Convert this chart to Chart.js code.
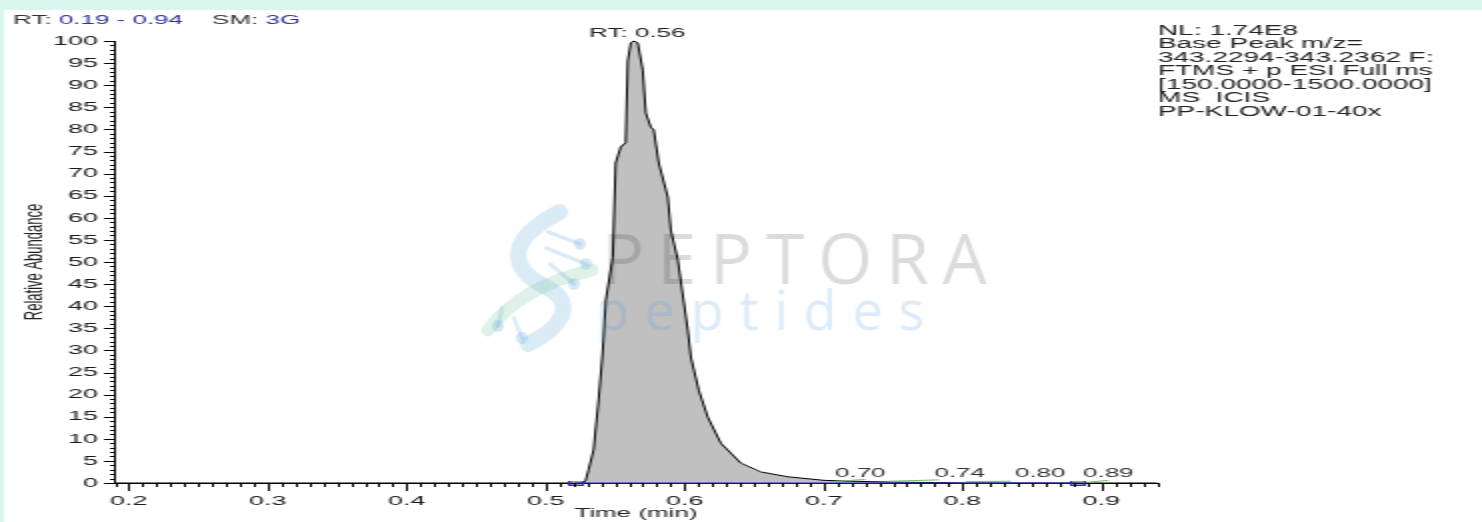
<!DOCTYPE html>
<html>
<head>
<meta charset="utf-8">
<script src="https://cdn.jsdelivr.net/npm/chart.js@4.4.1/dist/chart.umd.min.js"></script>
<style>
  html, body { margin: 0; padding: 0; background: #fff; overflow: hidden; }
  /* the instrument export is stretched 2x horizontally, so draw at half width and stretch */
  #wrap { width: 741px; height: 522px; transform: scaleX(2); transform-origin: 0 0; }
</style>
</head>
<body>
<div id="wrap"><canvas id="chromatogram" width="741" height="522"></canvas></div>
<script>
// chromatogram trace (time in min, relative abundance in %)
const retentionTime = [0.19, 0.52, 0.527, 0.5288, 0.5309, 0.5345, 0.5381, 0.5410, 0.5433, 0.5483,
    0.5504, 0.5540, 0.5576, 0.5591, 0.5613, 0.5634, 0.5663, 0.5699, 0.5721, 0.5757,
    0.5778, 0.5814, 0.5879, 0.5901, 0.5951, 0.6023, 0.6045, 0.6102, 0.6167, 0.6261,
    0.6405, 0.6550, 0.6744, 0.7004, 0.7200, 0.7500, 0.7800, 0.8000, 0.9400];
const relativeAbundance = [0, 0, 0, 0.6, 3, 7.5, 18.8, 29.4, 41.4, 51,
    72.4, 76, 77, 95.5, 99.6, 100, 99.6, 93.4, 83.7, 80.5,
    79.9, 72.4, 64.7, 57.2, 50.5, 34.6, 28.5, 21, 14.9, 9,
    4.5, 2.5, 1.4, 0.6, 0.4, 0.2, 0.1, 0, 0];

// integration baseline (blue) and small detected peaks (green)
const baselineTime = [0.522, 0.883];
const baselineLevel = [0, 0];
const minorPeakTime = [0.705, 0.730, 0.731, 0.747, 0.783, 0.784, 0.802, 0.835, 0.836, 0.891, 0.905];
const minorPeakLevel = [0.3, 0.8, null, 0.4, 0.7, null, 0.3, 0.4, null, 0.2, 0.6];

// peak labels
const apexLabel = 'RT: 0.56';
const apexTime = 0.566;
const minorPeakLabels = ['0.70', '0.74', '0.80', '0.89'];
const minorPeakLabelTime = [0.7265, 0.798, 0.856, 0.905];

// axis ticks
const xTickValues = [0.2, 0.3, 0.4, 0.5, 0.6, 0.7, 0.8, 0.9];
const yTickValues = [0, 5, 10, 15, 20, 25, 30, 35, 40, 45, 50, 55, 60, 65, 70, 75, 80, 85, 90, 95, 100];

// header / info text
const rangeText = '0.19 - 0.94';
const smoothText = '3G';
const infoLines = ['NL: 1.74E8', 'Base Peak m/z=', '343.2294-343.2362 F:', 'FTMS + p ESI Full ms',
    '[150.0000-1500.0000]', 'MS  ICIS', 'PP-KLOW-01-40x'];

const STRETCH = 2;
const FONT = '"Liberation Sans", Arial, sans-serif';

function toPoints(xs, ys) {
    return xs.map(function(x, i) { return {x: x, y: ys[i]}; });
}

function markerCanvas() {
    var c = document.createElement('canvas');
    c.width = 8; c.height = 5;
    var g = c.getContext('2d');
    g.strokeStyle = '#2b2bc0';
    g.lineWidth = 1;
    g.strokeRect(0.5, 0.5, 7, 4);
    return c;
}

const decorations = {
    id: 'decorations',
    beforeDraw: function(chart) {
        var ctx = chart.ctx;
        ctx.save();
        ctx.fillStyle = '#ffffff';
        ctx.fillRect(0, 0, chart.width, chart.height);
        ctx.fillStyle = '#daf7ef';
        ctx.fillRect(0, 0, chart.width, 10);
        ctx.fillRect(0, 0, 2, chart.height);
        ctx.restore();
    },
    afterDatasetsDraw: function(chart) {
        // watermark, drawn in unstretched pixels
        var ctx = chart.ctx;
        ctx.save();
        ctx.scale(1 / STRETCH, 1);
        ctx.textBaseline = 'alphabetic';
        ctx.textAlign = 'left';
        ctx.font = '400 70px "Open Sans", Lato, sans-serif';
        var w = ctx.measureText('PEPTORA').width;
        ctx.letterSpacing = ((385 - w) / 6) + 'px';
        ctx.fillStyle = 'rgba(0,0,0,0.14)';
        ctx.fillText('PEPTORA', 602, 284);
        ctx.font = '400 54px "Open Sans", Lato, sans-serif';
        ctx.letterSpacing = '0px';
        w = ctx.measureText('peptides').width;
        ctx.letterSpacing = ((328 - w) / 7) + 'px';
        ctx.fillStyle = 'rgba(70,150,210,0.19)';
        ctx.fillText('peptides', 596, 330);

        ctx.letterSpacing = '0px';
        ctx.lineCap = 'round';
        ctx.strokeStyle = 'rgba(90,165,215,0.22)';
        ctx.lineWidth = 16;
        ctx.beginPath();
        ctx.moveTo(560, 212);
        ctx.bezierCurveTo(508, 238, 506, 268, 546, 287);
        ctx.bezierCurveTo(578, 303, 562, 328, 528, 344);
        ctx.stroke();
        ctx.strokeStyle = 'rgba(110,190,150,0.22)';
        ctx.lineWidth = 13;
        ctx.beginPath();
        ctx.moveTo(488, 330);
        ctx.quadraticCurveTo(522, 286, 592, 270);
        ctx.stroke();
        ctx.strokeStyle = 'rgba(90,165,215,0.22)';
        ctx.fillStyle = 'rgba(90,165,215,0.24)';
        ctx.lineWidth = 4;
        [[548, 232, 580, 244], [546, 248, 586, 264], [550, 264, 574, 284], [502, 308, 498, 326], [514, 318, 522, 338]].forEach(function(s) {
            ctx.beginPath();
            ctx.moveTo(s[0], s[1]);
            ctx.lineTo(s[2], s[3]);
            ctx.stroke();
            ctx.beginPath();
            ctx.arc(s[2], s[3], 6, 0, Math.PI * 2);
            ctx.fill();
        });
        ctx.restore();
    },
    afterDraw: function(chart) {
        var ctx = chart.ctx;
        var xs = chart.scales.x, ys = chart.scales.y;
        ctx.save();

        // minor and major tick marks
        ctx.strokeStyle = '#000';
        ctx.lineWidth = 1;
        ctx.beginPath();
        for (var i = 0; i <= 100; i++) {
            var py = Math.round(ys.getPixelForValue(i)) + 0.5;
            var ly = (i % 5 === 0) ? 5.5 : 2.5;
            ctx.moveTo(xs.left - ly, py);
            ctx.lineTo(xs.left, py);
        }
        for (var j = 19; j <= 94; j++) {
            var px = Math.round(xs.getPixelForValue(j / 100)) + 0.5;
            var lx = (j % 10 === 0) ? 8 : 4;
            ctx.moveTo(px, ys.bottom);
            ctx.lineTo(px, ys.bottom + lx);
        }
        ctx.stroke();

        // header
        ctx.font = '13px ' + FONT;
        ctx.textBaseline = 'middle';
        ctx.textAlign = 'left';
        var hx = 6.5;
        var parts = [['RT: ', '#333333'], [rangeText, '#30309a'], ['    SM: ', '#333333'], [smoothText, '#30309a']];
        parts.forEach(function(p) {
            ctx.fillStyle = p[1];
            ctx.fillText(p[0], hx, 20);
            hx += ctx.measureText(p[0]).width;
        });

        // instrument info
        ctx.font = '14px ' + FONT;
        ctx.fillStyle = '#222222';
        infoLines.forEach(function(line, k) {
            ctx.fillText(line, xs.right + 0.5, 31 + k * 13.5);
        });

        // peak labels
        ctx.font = '13px ' + FONT;
        ctx.textAlign = 'center';
        ctx.fillStyle = '#222222';
        ctx.fillText(apexLabel, xs.getPixelForValue(apexTime), ys.getPixelForValue(100) - 8);
        ctx.fillStyle = '#333333';
        minorPeakLabels.forEach(function(lbl, k) {
            ctx.fillText(lbl, xs.getPixelForValue(minorPeakLabelTime[k]), ys.getPixelForValue(2.1));
        });
        ctx.restore();
    }
};

new Chart(document.getElementById('chromatogram'), {
    type: 'line',
    data: {
        datasets: [{
            label: 'trace',
            data: toPoints(retentionTime, relativeAbundance),
            borderColor: '#000000',
            borderWidth: 1,
            backgroundColor: '#c0c0c0',
            fill: 'origin',
            pointRadius: 0,
            tension: 0,
            clip: false,
            order: 3
        }, {
            label: 'minor peaks',
            data: toPoints(minorPeakTime, minorPeakLevel),
            borderColor: '#6cbf6c',
            borderWidth: 1,
            pointRadius: 0,
            spanGaps: false,
            clip: false,
            order: 2
        }, {
            label: 'baseline',
            data: toPoints(baselineTime, baselineLevel),
            borderColor: '#2b2bc0',
            borderWidth: 1,
            pointStyle: markerCanvas(),
            pointRadius: 3,
            clip: false,
            order: 1
        }]
    },
    options: {
        responsive: false,
        animation: false,
        events: [],
        layout: {padding: {left: 0, top: 41, right: 162.5, bottom: 0}},
        plugins: {legend: {display: false}, tooltip: {enabled: false}},
        scales: {
            x: {
                type: 'linear',
                min: 0.19,
                max: 0.94,
                afterBuildTicks: function(scale) {
                    scale.ticks = xTickValues.map(function(v) { return {value: v}; });
                },
                afterFit: function(scale) { scale.height = 39; },
                grid: {display: false, drawTicks: false},
                border: {display: true, color: '#000', width: 1},
                ticks: {
                    padding: 10,
                    maxRotation: 0,
                    autoSkip: false,
                    color: '#1a1a1a',
                    font: {family: FONT, size: 13.5},
                    callback: function(v) { return v.toFixed(1); }
                },
                title: {
                    display: true,
                    text: 'Time (min)',
                    color: '#222222',
                    font: {family: FONT, size: 13},
                    padding: {top: 0, bottom: 1}
                }
            },
            y: {
                min: 0,
                max: 100,
                afterBuildTicks: function(scale) {
                    scale.ticks = yTickValues.map(function(v) { return {value: v}; });
                },
                afterFit: function(scale) { scale.width = 57.5; },
                grid: {display: false, drawTicks: false},
                border: {display: true, color: '#000', width: 1},
                ticks: {
                    padding: 8.5,
                    autoSkip: false,
                    color: '#1a1a1a',
                    font: {family: FONT, size: 13.5}
                },
                title: {
                    display: true,
                    text: 'Relative Abundance',
                    color: '#222222',
                    font: {family: FONT, size: 13},
                    padding: {top: 10, bottom: 0}
                }
            }
        }
    },
    plugins: [decorations]
});
</script>
</body>
</html>
